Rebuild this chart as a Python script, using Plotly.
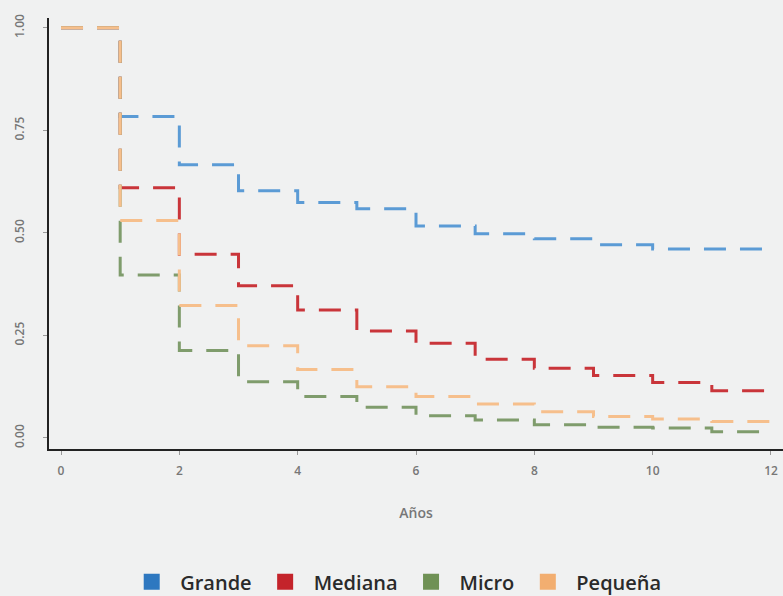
import plotly.graph_objects as go

years = [0, 1, 2, 3, 4, 5, 6, 7, 8, 9, 10, 11, 12]
grande = [1.0, 0.784, 0.666, 0.603, 0.574, 0.559, 0.517, 0.498, 0.486, 0.471, 0.461, 0.461, 0.461]
mediana = [1.0, 0.610, 0.448, 0.371, 0.312, 0.261, 0.231, 0.192, 0.170, 0.152, 0.135, 0.115, 0.115]
micro = [1.0, 0.397, 0.213, 0.137, 0.101, 0.075, 0.054, 0.044, 0.032, 0.026, 0.024, 0.015, 0.015]
pequena = [1.0, 0.530, 0.323, 0.225, 0.167, 0.125, 0.101, 0.083, 0.064, 0.052, 0.046, 0.040, 0.040]

names = ["Grande", "Mediana", "Micro", "Pequeña"]
series = [grande, mediana, micro, pequena]
line_colors = ["#5b9bd5", "#c9353a", "#7f9c6c", "#f6bf8c"]
legend_colors = ["#2e78c0", "#c4242b", "#6f9155", "#f2ae70"]

x_ticks = [0, 2, 4, 6, 8, 10, 12]
y_ticks = [0.0, 0.25, 0.5, 0.75, 1.0]
y_tick_text = ["0.00", "0.25", "0.50", "0.75", "1.00"]

fig = go.Figure()
for name, vals, col in zip(names, series, line_colors):
    fig.add_trace(go.Scatter(
        x=years, y=vals, mode="lines", line_shape="hv",
        line=dict(color=col, width=3, dash="22px,14px"),
        showlegend=False, hoverinfo="skip"))
for name, col in zip(names, legend_colors):
    fig.add_trace(go.Scatter(
        x=[None], y=[None], mode="markers", name=name,
        marker=dict(symbol="square", size=16, color=col)))

fig.update_layout(
    width=783, height=596,
    margin=dict(l=49, r=0, t=18, b=147, autoexpand=False),
    paper_bgcolor="#f0f1f1", plot_bgcolor="#f0f1f1",
    font=dict(family="Open Sans, sans-serif", color="#777777"),
    legend=dict(orientation="h", x=0.471, xanchor="center",
                yref="container", y=0.024, yanchor="middle",
                font=dict(size=20, color="#2a2a2a", family="Open Sans, sans-serif", weight=600),
                itemwidth=47, tracegroupgap=0),
    xaxis=dict(range=[-0.203, 12.203], tickvals=x_ticks, showgrid=False, zeroline=False,
               showline=True, linecolor="#222222", linewidth=2,
               ticks="outside", ticklen=4, tickcolor="#999999",
               ticklabelstandoff=6,
               tickfont=dict(size=12, color="#777777", weight=600),
               title=dict(text="Años", font=dict(size=14, color="#777777", weight=600), standoff=30)),
    yaxis=dict(range=[-0.027, 1.024], tickvals=y_ticks, ticktext=y_tick_text,
               showgrid=False, zeroline=False,
               showline=True, linecolor="#222222", linewidth=2,
               ticks="outside", ticklen=4, tickcolor="#999999", tickangle=-90,
               ticklabelstandoff=14,
               tickfont=dict(size=12, color="#777777", weight=600)),
)

fig.write_html("out.html")
